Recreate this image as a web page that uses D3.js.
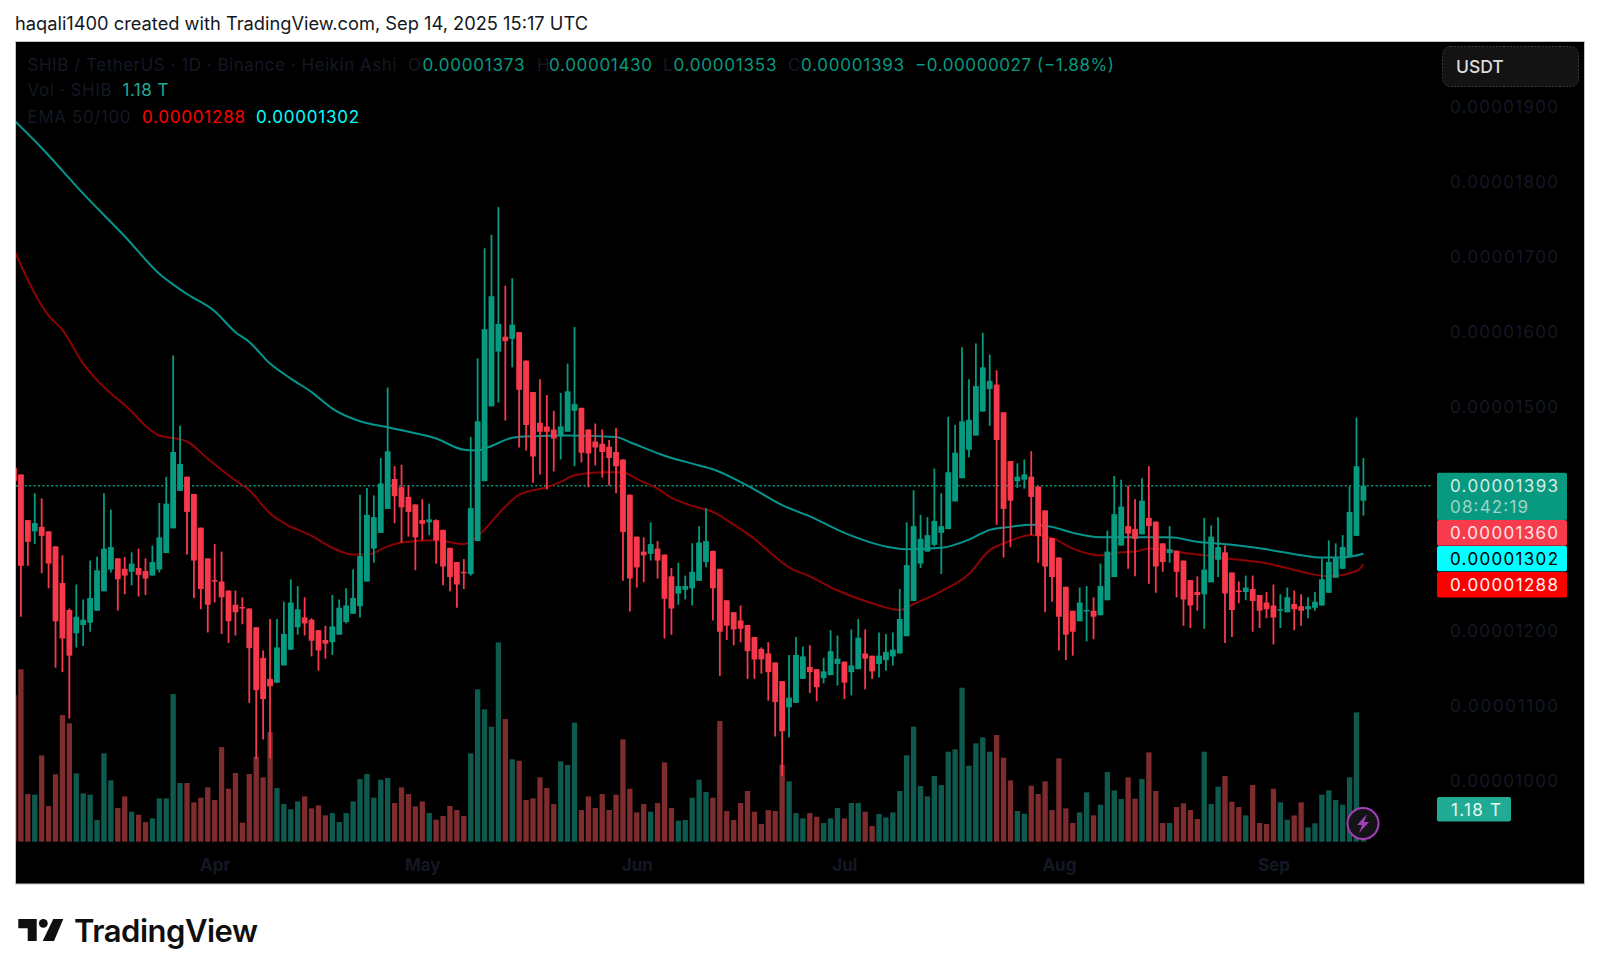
<!DOCTYPE html>
<html>
<head>
<meta charset="utf-8">
<script src="https://cdn.jsdelivr.net/npm/d3@7/dist/d3.min.js"></script>
<style>
html,body{margin:0;padding:0;background:#fff;}
svg{display:block;}
text{font-family:Inter,"Noto Sans",sans-serif;}
</style>
</head>
<body>
<svg id="c" width="1600" height="976"></svg>
<script>
// All prices are in units of 0.00000001 USDT, volume in billions of SHIB. First candle: 2025-03-03, daily.
const opens=[1417,1408,1347,1332,1338,1332,1312,1263,1227,1196,1207,1210,1226,1252,1281,1296,1282,1278,1283,1279,1273,1281,1303,1336,1386,1405,1382,1337,1296,1267,1265,1253,1234,1231,1229,1204,1163,1135,1130,1153,1174,1204,1217,1214,1200,1187,1184,1194,1211,1222,1232,1265,1309,1330,1362,1402,1391,1378,1368,1347,1344,1347,1334,1310,1291,1278,1275,1319,1399,1499,1572,1592,1589,1598,1560,1518,1477,1472,1468,1460,1465,1493,1497,1468,1452,1449,1445,1438,1428,1381,1325,1305,1302,1309,1301,1272,1249,1254,1256,1266,1291,1306,1282,1240,1224,1213,1207,1191,1175,1169,1157,1132,1097,1103,1135,1151,1148,1136,1140,1155,1158,1144,1148,1169,1166,1155,1160,1165,1169,1192,1239,1289,1305,1314,1330,1335,1372,1403,1441,1460,1492,1522,1528,1491,1426,1399,1401,1405,1392,1360,1323,1297,1258,1226,1212,1225,1226,1220,1240,1271,1313,1339,1335,1328,1350,1345,1316,1303,1306,1293,1267,1251,1248,1264,1294,1304,1277,1253,1251,1255,1247,1237,1233,1226,1224,1235,1232,1228,1230,1233,1250,1270,1282,1298,1326,1373];
const closes=[1399,1286,1318,1343,1326,1289,1212,1189,1166,1218,1214,1243,1280,1309,1311,1268,1273,1289,1274,1269,1291,1324,1369,1438,1422,1358,1293,1255,1234,1265,1244,1212,1224,1229,1176,1120,1108,1125,1177,1195,1237,1228,1209,1186,1173,1182,1205,1230,1233,1243,1299,1354,1351,1396,1439,1379,1364,1358,1324,1342,1348,1320,1285,1271,1261,1276,1363,1479,1602,1646,1609,1586,1608,1521,1474,1432,1465,1465,1456,1472,1519,1502,1437,1436,1444,1438,1430,1419,1331,1269,1284,1300,1315,1293,1242,1229,1259,1259,1278,1317,1319,1256,1198,1206,1201,1202,1172,1161,1161,1144,1104,1065,1110,1167,1165,1144,1124,1145,1172,1162,1130,1153,1190,1162,1145,1166,1171,1174,1215,1287,1339,1322,1327,1346,1339,1411,1437,1479,1481,1526,1551,1533,1454,1362,1373,1405,1408,1378,1326,1285,1271,1218,1194,1198,1237,1227,1218,1259,1305,1355,1365,1329,1322,1373,1339,1285,1291,1308,1278,1241,1233,1247,1281,1325,1311,1249,1227,1251,1257,1239,1226,1228,1217,1228,1244,1228,1226,1232,1238,1268,1291,1296,1311,1358,1419,1393];
const highs=[1420,1408,1347,1383,1376,1332,1312,1300,1229,1261,1241,1293,1298,1383,1361,1296,1298,1304,1309,1296,1313,1370,1405,1567,1473,1405,1382,1337,1296,1315,1305,1253,1253,1244,1229,1204,1173,1215,1215,1238,1268,1259,1244,1216,1200,1206,1247,1241,1256,1281,1381,1390,1380,1430,1524,1419,1421,1393,1368,1375,1369,1348,1334,1310,1291,1295,1458,1563,1710,1728,1765,1660,1670,1598,1560,1518,1535,1514,1493,1517,1556,1605,1497,1468,1476,1468,1454,1470,1428,1381,1325,1324,1344,1319,1301,1283,1290,1273,1316,1339,1363,1306,1282,1240,1224,1233,1207,1191,1177,1184,1157,1132,1167,1191,1178,1180,1148,1163,1200,1193,1158,1201,1215,1201,1166,1197,1195,1197,1255,1344,1387,1354,1351,1416,1383,1485,1474,1578,1535,1583,1597,1568,1547,1491,1426,1423,1428,1439,1392,1360,1323,1297,1258,1226,1257,1259,1244,1289,1333,1406,1401,1393,1375,1403,1419,1345,1316,1339,1306,1293,1267,1272,1350,1340,1351,1313,1277,1265,1273,1273,1247,1251,1261,1248,1257,1253,1248,1244,1251,1296,1320,1316,1327,1392,1484,1430];
const lows=[1395,1218,1286,1315,1276,1256,1150,1144,1082,1177,1179,1198,1226,1252,1277,1226,1248,1260,1245,1247,1273,1277,1303,1336,1386,1301,1243,1228,1197,1237,1195,1183,1193,1208,1103,1028,1054,1029,1130,1153,1174,1194,1193,1165,1146,1162,1167,1194,1209,1222,1217,1265,1290,1330,1362,1343,1317,1325,1280,1320,1327,1289,1260,1252,1230,1255,1273,1319,1399,1499,1504,1480,1551,1444,1440,1397,1408,1388,1412,1428,1465,1419,1424,1391,1420,1404,1393,1383,1266,1225,1257,1264,1293,1269,1189,1194,1234,1241,1233,1266,1284,1213,1139,1187,1180,1184,1135,1135,1142,1106,1058,1005,1057,1103,1135,1116,1105,1129,1140,1126,1108,1113,1148,1121,1135,1137,1146,1153,1169,1192,1239,1283,1305,1312,1275,1335,1372,1403,1431,1460,1492,1473,1341,1297,1311,1390,1389,1327,1290,1224,1238,1173,1160,1166,1212,1185,1188,1220,1240,1271,1313,1282,1272,1328,1262,1250,1278,1290,1244,1206,1203,1226,1202,1264,1271,1183,1191,1236,1240,1198,1203,1216,1181,1203,1224,1200,1206,1216,1226,1233,1250,1270,1282,1298,1326,1353];
const volumes=[5280,6204,1716,1692,3108,1284,2424,4560,4260,2460,1740,1692,780,3180,2208,1212,1632,1080,972,708,840,1560,1560,5316,2112,2112,1416,1584,1956,1500,3408,1908,2472,684,2436,3060,2316,3948,1932,1356,1164,1452,1632,1200,1308,948,1032,708,1032,1452,2256,2436,1584,2232,2292,1392,1956,1716,1272,1452,1032,792,924,1284,1140,924,3180,5484,4764,4140,7176,4416,2964,2916,1500,1560,2316,1932,1356,2892,2760,4284,1140,1632,1212,1716,1140,1692,3684,1908,1056,1356,1080,1392,2856,1212,756,780,1584,2232,1788,1584,4344,1104,780,1392,1824,1080,636,1140,1104,2772,2172,1032,840,1032,900,672,840,1212,840,1392,1392,1080,564,996,876,1056,1824,3108,4140,2004,1632,2364,2040,3240,3324,5544,2736,3540,3756,3240,3840,3024,2208,1104,1008,2016,1716,2172,1140,3000,1200,672,1056,1776,948,1332,2508,1848,1536,2316,1548,2256,3216,1824,672,672,1248,1380,1140,816,3240,1356,1980,2364,1440,1248,948,2040,672,636,1908,1416,792,948,1416,516,660,1692,1848,1500,1332,2316,4656,1176];
const ema100Days=[0,4,10,16,21,25,29,32,34,37,40,43,46,50,54,56,61,65,67,69,72,75,80,87,89,94,99,101,106,111,115,120,127,129,134,138,141,144,147,150,153,157,162,167,171,176,181,186,189,192,195];
const ema100=[1881,1844,1783,1726,1676,1649,1626,1598,1585,1556,1536,1518,1496,1479,1471,1467,1456,1441,1440,1446,1457,1459,1460,1458,1451,1433,1420,1415,1393,1367,1352,1330,1310,1308,1310,1321,1334,1338,1341,1338,1330,1324,1324,1324,1318,1314,1308,1300,1297,1297,1302];
const ema50Days=[0,5,7,10,12,17,19,21,24,25,28,32,34,37,39,43,46,49,51,54,56,61,65,67,71,73,77,79,81,85,88,90,93,95,98,101,104,107,110,112,115,119,124,128,130,134,138,141,143,145,147,150,153,157,160,162,164,166,170,172,176,180,184,187,190,194,195];
const ema50=[1708,1620,1601,1556,1534,1492,1473,1460,1455,1452,1429,1400,1387,1356,1343,1326,1310,1301,1301,1312,1317,1320,1315,1326,1365,1381,1391,1398,1407,1411,1411,1402,1389,1377,1366,1358,1341,1322,1298,1284,1272,1253,1236,1227,1235,1252,1275,1307,1316,1323,1327,1323,1309,1300,1304,1305,1309,1308,1302,1300,1295,1291,1283,1276,1272,1279,1288];
const priceTicks=[1000,1100,1200,1500,1600,1700,1800,1900];
const monthTicks=["2025-04-01","2025-05-01","2025-06-01","2025-07-01","2025-08-01","2025-09-01"];
const lastClose=1393, redTag=1360, ema100Last=1302, ema50Last=1288;

const GREEN="#089981",RED="#f7394b",VG="#0f5a4f",VR="#7e2c2d",FAINT="#141824";
const fmt=v=>(v*1e-8).toFixed(8);
const parse=d3.utcParse("%Y-%m-%d");
const day0=parse("2025-03-03");
const dateOf=i=>d3.utcDay.offset(day0,i);

const x=d3.scaleUtc().domain([day0,dateOf(195)]).range([14,1363.4]);
const y=d3.scaleLinear().domain([1000,1900]).range([780,106]);
const yV=d3.scaleLinear().domain([0,7200]).range([841.7,641.7]);

const svg=d3.select("#c");
svg.append("rect").attr("width",1600).attr("height",976).attr("fill","#fff");
svg.append("text").attr("x",15).attr("y",30).attr("font-size",18).attr("fill","#131722")
  .attr("textLength",573).attr("lengthAdjust","spacingAndGlyphs").text("haqali1400 created with TradingView.com, Sep 14, 2025 15:17 UTC");

// panel
svg.append("rect").attr("x",15.5).attr("y",41.5).attr("width",1569).attr("height",842.5).attr("fill","#000").attr("stroke","#c4c4c4").attr("stroke-width",1);
const defs=svg.append("defs");
defs.append("clipPath").attr("id","pane").append("rect").attr("x",16).attr("y",42).attr("width",1568).attr("height",842);
const g=svg.append("g").attr("clip-path","url(#pane)");

// axes
const xAxis=d3.axisBottom(x).tickValues(monthTicks.map(parse)).tickSize(0).tickFormat(d3.utcFormat("%b"));
const gx=g.append("g").attr("transform","translate(0,856)").call(xAxis);
gx.select(".domain").remove();
gx.selectAll("text").attr("font-family","Inter").attr("font-size",17).attr("font-weight",700).attr("fill",FAINT);

const yAxis=d3.axisRight(y).tickValues(priceTicks).tickSize(0).tickPadding(0).tickFormat(fmt);
const gy=g.append("g").attr("transform","translate(1450,1)").call(yAxis);
gy.select(".domain").remove();
gy.selectAll("text").attr("font-family","Inter").attr("font-size",17).attr("fill",FAINT).attr("textLength",108);

// volume
const bw=5.3;
g.append("g").selectAll("rect").data(volumes).join("rect")
  .attr("x",(d,i)=>x(dateOf(i))-bw/2).attr("width",bw)
  .attr("y",d=>yV(d)).attr("height",d=>yV(0)-yV(d))
  .attr("fill",(d,i)=>closes[i]>=opens[i]?VG:VR);

// price line
g.append("line").attr("x1",16).attr("x2",1433).attr("y1",y(lastClose)).attr("y2",y(lastClose))
  .attr("stroke",GREEN).attr("stroke-width",1.5).attr("stroke-dasharray","2 2.4");

// EMAs
const emaLine=days=>d3.line().x((d,i)=>x(dateOf(days[i]))).y(d=>y(d)).curve(d3.curveMonotoneX);
g.append("path").attr("d",emaLine(ema100Days)(ema100)).attr("fill","none").attr("stroke","#05958f").attr("stroke-width",2);
g.append("path").attr("d",emaLine(ema50Days)(ema50)).attr("fill","none").attr("stroke","#8b0303").attr("stroke-width",2);

// candles
const cg=g.append("g");
const col=i=>closes[i]>=opens[i]?GREEN:RED;
cg.selectAll("line").data(opens).join("line")
  .attr("x1",(d,i)=>x(dateOf(i))).attr("x2",(d,i)=>x(dateOf(i)))
  .attr("y1",(d,i)=>y(highs[i])).attr("y2",(d,i)=>y(lows[i]))
  .attr("stroke",(d,i)=>col(i)).attr("stroke-width",1.8);
const cw=5.8;
cg.selectAll("rect").data(opens).join("rect")
  .attr("x",(d,i)=>x(dateOf(i))-cw/2).attr("width",cw)
  .attr("y",(d,i)=>y(Math.max(d,closes[i])))
  .attr("height",(d,i)=>Math.max(1.5,Math.abs(y(d)-y(closes[i]))))
  .attr("fill",(d,i)=>col(i));

// legend
function t(s,px,py,fill,len,opt={}){
  const e=svg.append("text").attr("x",px).attr("y",py).attr("font-size",opt.size||17).attr("fill",fill).text(s);
  if(len) e.attr("textLength",len);
  if(opt.weight) e.attr("font-weight",opt.weight);
  if(opt.anchor) e.attr("text-anchor",opt.anchor);
  return e;
}
t("SHIB / TetherUS · 1D · Binance · Heikin Ashi",27.5,71,FAINT,369);
t("O",408,71,FAINT); t("0.00001373",422.5,71,GREEN,102);
t("H",537,71,FAINT); t("0.00001430",549,71,GREEN,103);
t("L",663,71,FAINT); t("0.00001353",673.5,71,GREEN,103);
t("C",788,71,FAINT); t("0.00001393",801,71,GREEN,103);
t("−0.00000027 (−1.88%)",915,71,GREEN,199);
t("Vol · SHIB",27.5,96,FAINT,84); t("1.18 T",122.5,96,"#22ab94",46);
t("EMA 50/100",27.5,123,FAINT,103);
t(fmt(ema50Last),142,123,"#ff0000",103); t(fmt(ema100Last),256,123,"#00ffff",103);

// USDT button
svg.append("rect").attr("x",1442.5).attr("y",46.5).attr("width",136).attr("height",40).attr("rx",8)
  .attr("fill","#131313").attr("stroke","#3b3b3b").attr("stroke-dasharray","2 1.5");
t("USDT",1456,72.5,"#dcdcdc",null,{size:17.5,weight:500});

// price tags
function tag(py,h,fill){ svg.append("rect").attr("x",1437).attr("y",py).attr("width",130).attr("height",h).attr("rx",2).attr("fill",fill); }
tag(472.7,47.6,GREEN); tag(520,25.8,"#f63c4c"); tag(546,25.2,"#00ffff"); tag(572,25.4,"#ff0000");
t(fmt(lastClose),1450,492,"#d6ece7",108);
t("08:42:19",1450,513,"#9ed3c8",78);
t(fmt(redTag),1450,539,"#fde3e5",108);
t(fmt(ema100Last),1450,565,"#000",108);
t(fmt(ema50Last),1450,590.5,"#fff0f0",108);

// volume tag
svg.append("rect").attr("x",1437).attr("y",797).attr("width",74).attr("height",24.5).attr("rx",2).attr("fill","#22ab94");
t("1.18 T",1451,815.5,"#e8f7f4",50);

// bolt icon
svg.append("circle").attr("cx",1363).attr("cy",823.5).attr("r",15.5).attr("fill","#131318").attr("stroke","#a33fb8").attr("stroke-width",2);
svg.append("path").attr("d","M1367,814 L1357,825 L1362,825 L1359,833 L1369,822 L1364,822 Z").attr("fill","#a33fb8");

// logo
svg.append("path").attr("fill","#0f0f0f").attr("d","M18.3,919 H36.7 V941 H27.7 V928.3 H18.3 Z");
svg.append("circle").attr("cx",43.3).attr("cy",923.4).attr("r",4.4).attr("fill","#0f0f0f");
svg.append("path").attr("fill","#0f0f0f").attr("d","M53.3,919 H63.3 L54,941 H42.7 Z");
t("TradingView",74,941.5,"#0f0f0f",184,{size:31,weight:600});
</script>
</body>
</html>
